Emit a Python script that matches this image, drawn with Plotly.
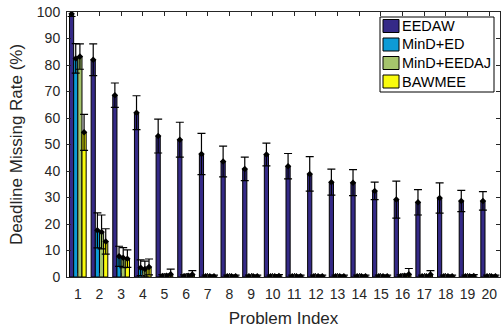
import plotly.graph_objects as go

problems = [str(i) for i in range(1, 21)]

series_names = ["EEDAW", "MinD+ED", "MinD+EEDAJ", "BAWMEE"]
series_colors = ["#352a87", "#0d9bd6", "#a5c46c", "#f9fb0e"]

eedaw = [99.3, 82.0, 68.6, 62.0, 53.2, 51.8, 46.4, 43.6, 40.8, 46.2,
         41.8, 38.9, 35.8, 35.6, 32.5, 29.2, 28.2, 29.8, 28.7, 28.7]
eedaw_err = [1.0, 6.0, 4.6, 6.4, 6.4, 6.6, 7.8, 5.8, 4.4, 4.3,
             4.8, 6.5, 4.9, 4.9, 3.3, 7.0, 4.8, 5.7, 4.0, 3.5]

mind_ed = [82.5, 17.6, 7.8, 3.5, 0.4, 0.3, 0.3, 0.3, 0.3, 0.3,
           0.3, 0.3, 0.3, 0.3, 0.3, 0.3, 0.3, 0.3, 0.3, 0.3]
mind_ed_err = [5.6, 6.6, 3.8, 3.0, 0.5, 0.5, 0.4, 0.4, 0.4, 0.4,
               0.4, 0.4, 0.4, 0.4, 0.4, 0.5, 0.4, 0.4, 0.4, 0.4]

mind_eedaj = [83.2, 17.0, 7.3, 3.0, 0.5, 0.5, 0.3, 0.3, 0.3, 0.3,
              0.3, 0.3, 0.3, 0.3, 0.3, 0.5, 0.3, 0.3, 0.3, 0.3]
mind_eedaj_err = [4.8, 6.4, 3.8, 3.0, 0.6, 0.6, 0.4, 0.4, 0.4, 0.4,
                  0.4, 0.4, 0.4, 0.4, 0.4, 0.6, 0.4, 0.4, 0.4, 0.4]

bawmee = [54.6, 13.4, 6.9, 3.8, 1.0, 0.9, 0.3, 0.3, 0.3, 0.4,
          0.3, 0.3, 0.3, 0.3, 0.3, 1.0, 0.9, 0.3, 0.4, 0.3]
bawmee_err = [6.8, 4.8, 3.3, 3.0, 2.0, 1.5, 0.4, 0.4, 0.4, 0.5,
              0.4, 0.4, 0.4, 0.4, 0.4, 2.2, 1.5, 0.4, 0.5, 0.4]

y_ticks = list(range(0, 101, 10))

values = [eedaw, mind_ed, mind_eedaj, bawmee]
errors = [eedaw_err, mind_ed_err, mind_eedaj_err, bawmee_err]

text_color = "rgb(38,38,38)"
font_family = "Liberation Sans, Arial, sans-serif"

W, H = 503, 335
M_L, M_R, M_T, M_B = 67, 3, 12, 58
PLOT_W = W - M_L - M_R
PLOT_H = H - M_T - M_B


def px_to_paper(px, py):
    """Convert a page pixel position to plot-area paper coordinates."""
    return (px - M_L) / PLOT_W, (H - M_B - py) / PLOT_H


fig = go.Figure()

for name, color, vals in zip(series_names, series_colors, values):
    fig.add_trace(go.Bar(
        x=problems, y=vals, name=name, showlegend=False,
        marker=dict(color=color, line=dict(color="black", width=1)),
        offsetgroup=name,
    ))

# mean markers with standard-deviation whiskers on top of each bar
for name, vals, errs in zip(series_names, values, errors):
    fig.add_trace(go.Scatter(
        x=problems, y=vals, mode="markers", showlegend=False,
        offsetgroup=name,
        marker=dict(symbol="diamond", size=5, color="black"),
        error_y=dict(type="data", array=errs, visible=True,
                     color="black", thickness=1.2, width=4),
        hoverinfo="skip",
    ))

# compact boxed legend in the upper-right corner
shapes = []
annotations = []
bx0, by0 = px_to_paper(380, 92)
bx1, by1 = px_to_paper(494, 17)
shapes.append(dict(type="rect", xref="paper", yref="paper",
                   x0=bx0, y0=by0, x1=bx1, y1=by1,
                   line=dict(color="black", width=1), fillcolor="white",
                   layer="above"))
row_centers = [26, 44.5, 63, 81.5]
for name, color, cy in zip(series_names, series_colors, row_centers):
    sx0, sy0 = px_to_paper(383, cy + 6.5)
    sx1, sy1 = px_to_paper(399, cy - 6.5)
    shapes.append(dict(type="rect", xref="paper", yref="paper",
                       x0=sx0, y0=sy0, x1=sx1, y1=sy1,
                       line=dict(color="black", width=1), fillcolor=color,
                       layer="above"))
    tx, ty = px_to_paper(400, cy)
    annotations.append(dict(xref="paper", yref="paper", x=tx, y=ty,
                            xanchor="left", yanchor="middle", text=name,
                            showarrow=False,
                            font=dict(size=14.5, color="black",
                                      family=font_family)))

fig.update_layout(
    width=W, height=H,
    margin=dict(l=M_L, r=M_R, t=M_T, b=M_B),
    paper_bgcolor="white", plot_bgcolor="white",
    barmode="group", bargap=0.23, bargroupgap=0,
    scattermode="group", scattergap=0.23,
    font=dict(family=font_family, size=13.5, color=text_color),
    showlegend=False,
    shapes=shapes, annotations=annotations,
    xaxis=dict(
        type="category", tickvals=problems,
        showline=True, linecolor=text_color, linewidth=1, mirror="ticks",
        ticks="inside", ticklen=4, tickcolor=text_color,
        ticklabelstandoff=4,
        showgrid=False,
        title=dict(text="Problem Index", standoff=11, font=dict(size=17)),
        tickfont=dict(size=14),
    ),
    yaxis=dict(
        range=[0, 100], tickvals=y_ticks,
        showline=True, linecolor=text_color, linewidth=1, mirror="ticks",
        ticks="inside", ticklen=4, tickcolor=text_color,
        ticklabelstandoff=3,
        showgrid=False, zeroline=False,
        title=dict(text="Deadline Missing Rate (%)", standoff=9,
                   font=dict(size=17)),
        tickfont=dict(size=14),
    ),
)

fig.write_html("out.html")
